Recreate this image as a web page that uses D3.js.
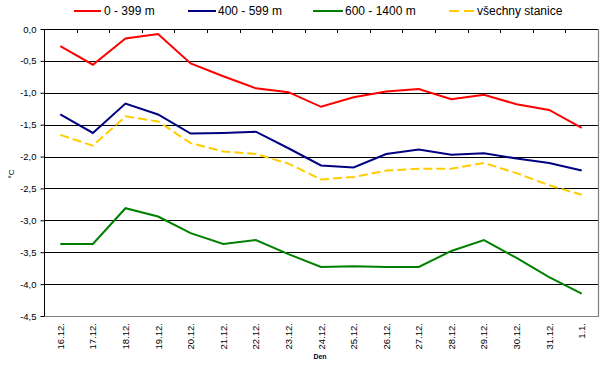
<!DOCTYPE html>
<html>
<head>
<meta charset="utf-8">
<script src="https://cdn.jsdelivr.net/npm/d3@7"></script>
<style>
  html, body { margin: 0; padding: 0; background: #fff; }
  svg { display: block; font-family: "Liberation Sans", Arial, sans-serif; }
</style>
</head>
<body>
<div id="chart"></div>
<script>
// Data (°C by day)
const days = ["16.12.", "17.12.", "18.12.", "19.12.", "20.12.", "21.12.", "22.12.", "23.12.",
  "24.12.", "25.12.", "26.12.", "27.12.", "28.12.", "29.12.", "30.12.", "31.12.", "1.1."];

const low = [-0.27, -0.56, -0.15, -0.08, -0.54, -0.74, -0.93, -0.99, -1.22, -1.07,
  -0.98, -0.94, -1.10, -1.03, -1.18, -1.27, -1.55];
const mid = [-1.34, -1.63, -1.17, -1.34, -1.64, -1.63, -1.61, -1.87, -2.14, -2.17,
  -1.96, -1.89, -1.97, -1.95, -2.03, -2.10, -2.22];
const high = [-3.37, -3.37, -2.81, -2.94, -3.20, -3.37, -3.31, -3.53, -3.73, -3.72,
  -3.73, -3.73, -3.48, -3.31, -3.59, -3.89, -4.15];
const all = [-1.66, -1.83, -1.37, -1.45, -1.79, -1.92, -1.96, -2.11, -2.36, -2.32,
  -2.22, -2.19, -2.19, -2.10, -2.26, -2.45, -2.60];

const yTicks = [0, -0.5, -1, -1.5, -2, -2.5, -3, -3.5, -4, -4.5];

const series = [
  { name: "0 - 399 m", values: low, color: "#ff0000", dash: null },
  { name: "400 - 599 m", values: mid, color: "#000080", dash: null },
  { name: "600 - 1400 m", values: high, color: "#008000", dash: null },
  { name: "všechny stanice", values: all, color: "#ffcc00", dash: "9,4" }
];

const W = 601, H = 370;
const plot = { left: 44, right: 598, top: 29, bottom: 316 };

const svg = d3.select("#chart").append("svg")
  .attr("width", W)
  .attr("height", H);

// Scales
const xBand = d3.scaleBand().domain(days).range([plot.left, plot.right]);
const x = d3.scalePoint().domain(days).range([plot.left, plot.right]).padding(0.5);
const y = d3.scaleLinear().domain([-4.5, 0]).range([plot.bottom, plot.top]);

// Gridlines
svg.append("g")
  .selectAll("line")
  .data(yTicks.filter(t => t > -4.5))
  .enter().append("line")
  .attr("x1", plot.left).attr("x2", plot.right)
  .attr("y1", d => Math.round(y(d)) + 0.5).attr("y2", d => Math.round(y(d)) + 0.5)
  .attr("stroke", "#000").attr("stroke-width", 1);

// Plot border (right & bottom grey)
svg.append("path")
  .attr("d", `M${plot.right + 0.5},${plot.top}V${plot.bottom + 0.5}H${plot.left}`)
  .attr("fill", "none").attr("stroke", "#808080").attr("stroke-width", 1.2);

// Category ticks on the zero line
svg.append("g")
  .selectAll("line")
  .data(days.slice(1))
  .enter().append("line")
  .attr("x1", d => Math.round(xBand(d)) + 0.5).attr("x2", d => Math.round(xBand(d)) + 0.5)
  .attr("y1", Math.round(y(0))).attr("y2", Math.round(y(0)) + 4)
  .attr("stroke", "#000");

// Y axis
const yAxis = svg.append("g")
  .attr("transform", `translate(${plot.left + 0.5},0)`)
  .call(d3.axisLeft(y).tickValues(yTicks).tickSize(4).tickPadding(4)
    .tickFormat(d => d3.format(".1f")(d).replace(".", ",").replace("−", "-")));
yAxis.select(".domain").attr("stroke", "#000").attr("d", `M0,${plot.top}V${plot.bottom}`);
yAxis.selectAll(".tick line").attr("stroke", "#000");
yAxis.selectAll(".tick text")
  .attr("font-family", "Liberation Sans, Arial, sans-serif")
  .attr("font-size", 9.5).attr("fill", "#000");

// X labels (rotated)
svg.append("g")
  .selectAll("text")
  .data(days)
  .enter().append("text")
  .attr("transform", d => `translate(${x(d) + 3.5},${plot.bottom + 7}) rotate(-90)`)
  .attr("text-anchor", "end")
  .attr("font-size", 9.5)
  .attr("fill", "#000")
  .text(d => d);

// Axis titles
svg.append("text")
  .attr("transform", "translate(14,174) rotate(-90)")
  .attr("text-anchor", "middle")
  .attr("font-size", 8)
  .attr("fill", "#000")
  .text("°C");

svg.append("text")
  .attr("x", 320).attr("y", 359)
  .attr("text-anchor", "middle")
  .attr("font-size", 7)
  .attr("font-weight", "bold")
  .attr("fill", "#000033")
  .text("Den");

// Series lines
const line = d3.line()
  .x((d, i) => x(days[i]))
  .y(d => y(d));

svg.append("g")
  .selectAll("path")
  .data(series)
  .enter().append("path")
  .attr("d", d => line(d.values))
  .attr("fill", "none")
  .attr("stroke", d => d.color)
  .attr("stroke-width", 2)
  .attr("stroke-dasharray", d => d.dash);

// Legend
const legendPos = [
  { x0: 74, x1: 101, tx: 104 },
  { x0: 188, x1: 216, tx: 218 },
  { x0: 313, x1: 343, tx: 345 },
  { x0: 449, x1: 474, tx: 477 }
];
const legend = svg.append("g")
  .selectAll("g")
  .data(series)
  .enter().append("g");

legend.append("line")
  .attr("x1", (d, i) => legendPos[i].x0).attr("x2", (d, i) => legendPos[i].x1)
  .attr("y1", 11).attr("y2", 11)
  .attr("stroke", d => d.color)
  .attr("stroke-width", 2)
  .attr("stroke-dasharray", d => d.dash ? "10,5" : null);

legend.append("text")
  .attr("x", (d, i) => legendPos[i].tx)
  .attr("y", 15)
  .attr("font-size", 12)
  .attr("fill", "#000")
  .text(d => d.name);
</script>
</body>
</html>
